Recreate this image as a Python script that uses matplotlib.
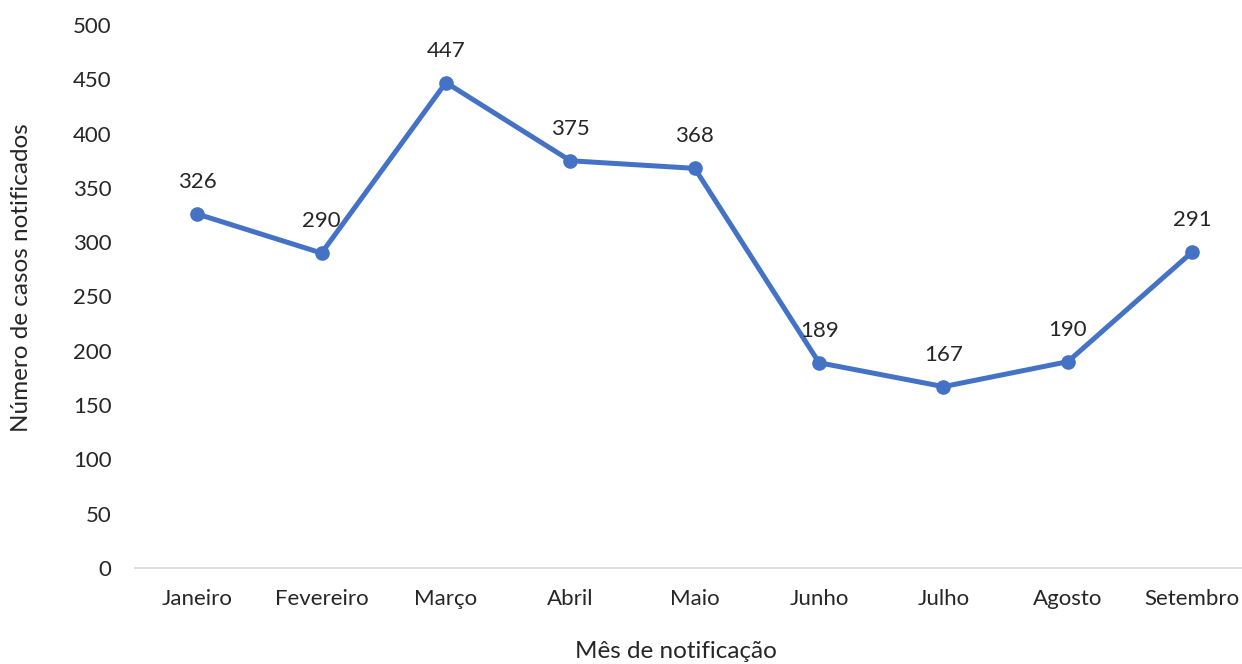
import matplotlib.pyplot as plt

plt.rcParams['font.family'] = ['Lato', 'DejaVu Sans']

meses = ["Janeiro", "Fevereiro", "Março", "Abril", "Maio",
         "Junho", "Julho", "Agosto", "Setembro"]
casos = [326, 290, 447, 375, 368, 189, 167, 190, 291]
y_ticks = [0, 50, 100, 150, 200, 250, 300, 350, 400, 450, 500]

fig = plt.figure(figsize=(12.42, 6.64), dpi=100)
ax = fig.add_axes([135 / 1242, 1 - 568 / 664, 1 - 135 / 1242, (568 - 25) / 664])

x = list(range(len(meses)))
ax.plot(x, casos, color="#4472C4", linewidth=3.6, marker="o", markersize=9.5,
        solid_capstyle="round", zorder=3)

for xi, v in zip(x, casos):
    ax.annotate(str(v), (xi, v), xytext=(0, 23), textcoords="offset points",
                ha="center", va="center", fontsize=16, color="#262626")

ax.set_ylim(0, 500)
ax.set_xlim(-0.5, 8.4)
ax.set_yticks(y_ticks)
ax.set_xticks(x)
ax.set_xticklabels(meses)
ax.tick_params(axis="both", length=0, labelsize=16, colors="#262626")
ax.tick_params(axis="y", pad=17)
ax.tick_params(axis="x", pad=15)

for s in ["top", "right", "left"]:
    ax.spines[s].set_visible(False)
ax.spines["bottom"].set_color("#D9D9D9")
ax.spines["bottom"].set_linewidth(1.2)

fig.text(676 / 1242, 1 - 651 / 664, "Mês de notificação", ha="center", va="center",
         fontsize=17.5, color="#262626")
fig.text(22 / 1242, 1 - 278 / 664, "Número de casos notificados", ha="center", va="center",
         rotation=90, fontsize=17.5, color="#262626")

fig.savefig("out.png", dpi=100)
